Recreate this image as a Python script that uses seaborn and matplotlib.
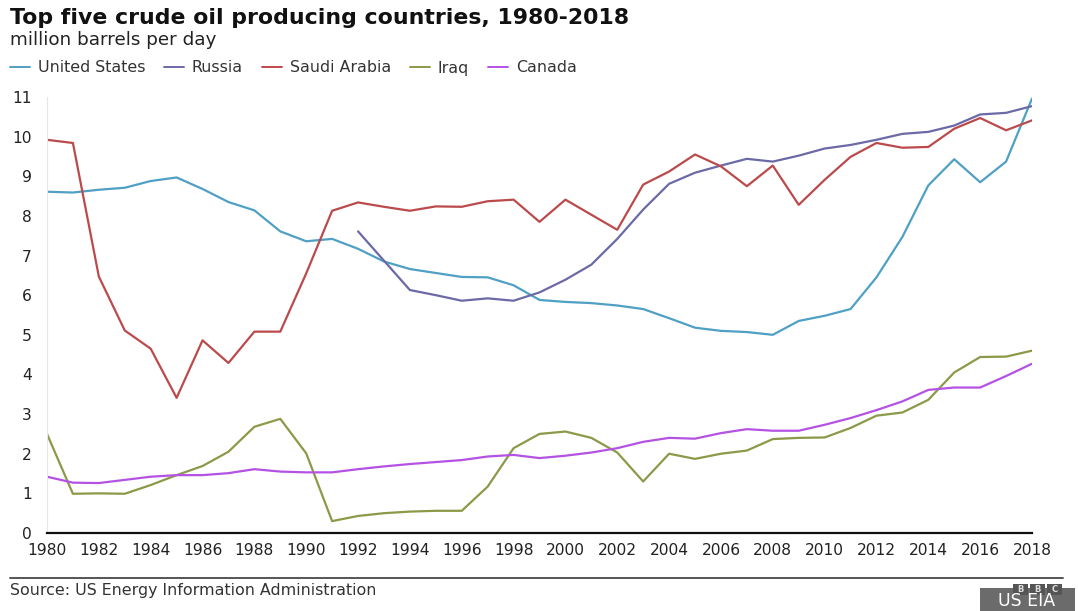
import numpy as np
import pandas as pd
import matplotlib
matplotlib.use("Agg")
import matplotlib.pyplot as plt
from matplotlib.lines import Line2D
from matplotlib.patches import Rectangle
import seaborn as sns

# Crude oil production, million barrels per day
years = list(range(1980, 2019))

united_states = [8.61, 8.59, 8.66, 8.71, 8.88, 8.97, 8.68, 8.35, 8.14, 7.61,
                 7.36, 7.42, 7.17, 6.85, 6.66, 6.56, 6.46, 6.45, 6.25, 5.88,
                 5.83, 5.80, 5.74, 5.65, 5.42, 5.18, 5.10, 5.07, 5.00, 5.35,
                 5.48, 5.65, 6.45, 7.47, 8.77, 9.43, 8.85, 9.37, 10.96]

russia = [np.nan] * 12 + [7.61, 6.87, 6.13, 6.00, 5.86, 5.92, 5.86, 6.07,
                          6.39, 6.77, 7.42, 8.16, 8.81, 9.09, 9.27, 9.44,
                          9.37, 9.52, 9.70, 9.79, 9.92, 10.07, 10.12, 10.28,
                          10.56, 10.60, 10.77]

saudi_arabia = [9.92, 9.84, 6.47, 5.11, 4.65, 3.41, 4.86, 4.29, 5.08, 5.08,
                6.55, 8.13, 8.34, 8.23, 8.13, 8.24, 8.23, 8.37, 8.41, 7.85,
                8.41, 8.03, 7.65, 8.79, 9.12, 9.55, 9.25, 8.75, 9.27, 8.28,
                8.91, 9.49, 9.84, 9.72, 9.74, 10.20, 10.47, 10.16, 10.41]

iraq = [2.50, 0.99, 1.00, 0.99, 1.21, 1.46, 1.69, 2.05, 2.68, 2.88,
        2.01, 0.30, 0.43, 0.50, 0.54, 0.56, 0.56, 1.17, 2.14, 2.50,
        2.56, 2.40, 2.03, 1.30, 2.00, 1.87, 2.00, 2.08, 2.37, 2.40,
        2.41, 2.65, 2.96, 3.04, 3.36, 4.05, 4.44, 4.45, 4.60]

canada = [1.42, 1.27, 1.26, 1.34, 1.42, 1.46, 1.46, 1.51, 1.61, 1.55,
          1.53, 1.53, 1.61, 1.68, 1.74, 1.79, 1.84, 1.93, 1.97, 1.89,
          1.95, 2.03, 2.14, 2.30, 2.40, 2.38, 2.52, 2.62, 2.58, 2.58,
          2.73, 2.90, 3.10, 3.32, 3.61, 3.67, 3.67, 3.96, 4.27]

countries = ["United States", "Russia", "Saudi Arabia", "Iraq", "Canada"]
colors = ["#4fa0c4", "#6b6aa6", "#bb4a4c", "#8a9a48", "#b452e4"]
x_ticks = list(range(1980, 2019, 2))
y_ticks = list(range(0, 12))

series = dict(zip(countries, [united_states, russia, saudi_arabia, iraq, canada]))
df = pd.DataFrame({"year": years, **series}).melt(
    id_vars="year", var_name="country", value_name="mbpd")

sns.set_style("white")
plt.rcParams["font.family"] = ["DejaVu Sans"]

fig = plt.figure(figsize=(10.78, 6.11), dpi=100)
ax = fig.add_axes([47 / 1078, 78 / 611, 985 / 1078, 436 / 611])

sns.lineplot(data=df, x="year", y="mbpd", hue="country", hue_order=countries,
             palette=colors, linewidth=1.6, ax=ax, legend=False)

ax.set_xlim(1980, 2018)
ax.set_ylim(0, 11)
ax.set_xticks(x_ticks)
ax.set_yticks(y_ticks)
ax.set_xlabel("")
ax.set_ylabel("")
ax.tick_params(axis="both", length=0, labelsize=11.2, colors="#222222")
ax.tick_params(axis="y", pad=11)
ax.tick_params(axis="x", pad=7)

for side in ("top", "right"):
    ax.spines[side].set_visible(False)
ax.spines["bottom"].set_color("#111111")
ax.spines["bottom"].set_linewidth(1.6)
ax.spines["left"].set_color("#e6e6e6")
ax.spines["left"].set_linewidth(0.8)

# Title block
fig.text(10 / 1078, 1 - 18 / 611, "Top five crude oil producing countries, 1980-2018",
         fontsize=15.8, fontweight="bold", color="#111111", va="center", ha="left")
fig.text(10 / 1078, 1 - 40 / 611, "million barrels per day",
         fontsize=13.2, color="#222222", va="center", ha="left")

# Legend row
handles = [Line2D([0], [0], color=c, lw=1.4) for c in colors]
fig.legend(handles, countries, loc="center left",
           bbox_to_anchor=(10 / 1078, 1 - 68 / 611), ncol=5, frameon=False,
           fontsize=11.4, handlelength=1.25, handletextpad=0.5,
           columnspacing=1.2, borderpad=0, borderaxespad=0,
           labelcolor="#333333")

# Footer rule, source and badge
fig.add_artist(Line2D([10 / 1078, 1063 / 1078], [1 - 578 / 611, 1 - 578 / 611],
                      color="#555555", lw=1.4, transform=fig.transFigure))
fig.text(10 / 1078, 1 - 590 / 611, "Source: US Energy Information Administration",
         fontsize=11.4, color="#333333", va="center", ha="left")

fig.add_artist(Rectangle((980 / 1078, 0), 95 / 1078, 23 / 611,
                         transform=fig.transFigure, facecolor="#6b6b6b",
                         edgecolor="none"))
fig.text(1027 / 1078, 1 - 601 / 611, "US EIA", fontsize=12.5, color="white",
         va="center", ha="center")
for i, letter in enumerate("BBC"):
    x0 = (1013 + i * 17) / 1078
    fig.add_artist(Rectangle((x0, 1 - 595 / 611), 15 / 1078, 11 / 611,
                             transform=fig.transFigure, facecolor="#555555",
                             edgecolor="none"))
    fig.text(x0 + 7.5 / 1078, 1 - 589.5 / 611, letter, fontsize=6,
             fontweight="bold", color="#dddddd", va="center", ha="center")

fig.savefig("out.png", dpi=100)
